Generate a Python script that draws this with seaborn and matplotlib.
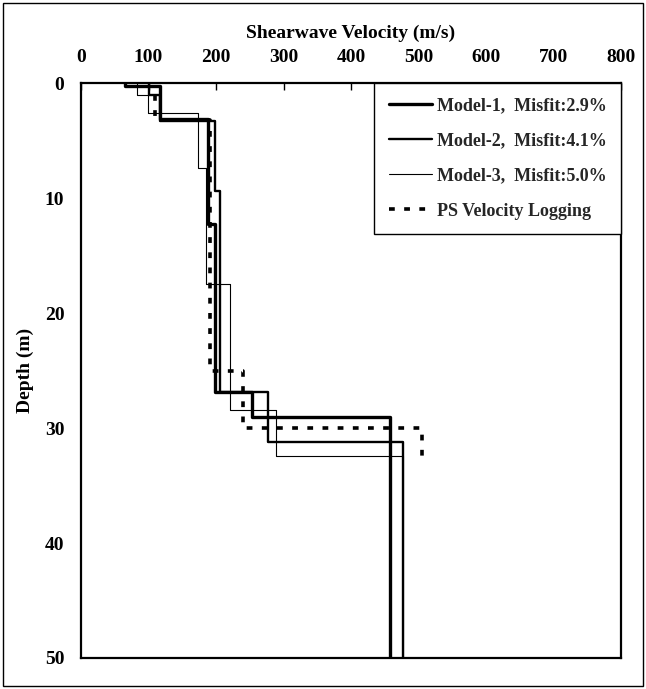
import numpy as np
import pandas as pd
import matplotlib
matplotlib.use("Agg")
import matplotlib.pyplot as plt
from matplotlib.patches import Rectangle
import seaborn as sns

# layered shear-wave profiles: velocity (m/s) of each layer, with layer top / bottom depth (m)
m1_vel = [65, 117, 188, 199, 253, 458]
m1_top = [0.0, 0.3, 3.1, 12.3, 26.9, 29.0]
m1_bot = [0.3, 3.1, 12.3, 26.9, 29.0, 50.0]

m2_vel = [101, 117, 198, 206, 277, 477]
m2_top = [0.0, 1.0, 3.3, 9.4, 26.9, 31.2]
m2_bot = [1.0, 3.3, 9.4, 26.9, 31.2, 50.0]

m3_vel = [83, 99, 173, 185, 221, 289, 477]
m3_top = [0.0, 1.0, 2.6, 7.4, 17.5, 28.4, 32.4]
m3_bot = [1.0, 2.6, 7.4, 17.5, 28.4, 32.4, 50.0]

ps_vel = [110, 191, 240, 505]
ps_top = [1.0, 3.2, 25.0, 30.0]
ps_bot = [3.2, 25.0, 30.0, 32.6]

labels = ["Model-1,  Misfit:2.9%", "Model-2,  Misfit:4.1%",
          "Model-3,  Misfit:5.0%", "PS Velocity Logging"]


def steps(vel, top, bot, name):
    xs, ys = [], []
    for v, t, b in zip(vel, top, bot):
        xs += [v, v]
        ys += [t, b]
    return pd.DataFrame({"vel": xs, "depth": ys, "model": name})


df = pd.concat([
    steps(m1_vel, m1_top, m1_bot, labels[0]),
    steps(m2_vel, m2_top, m2_bot, labels[1]),
    steps(m3_vel, m3_top, m3_bot, labels[2]),
    steps(ps_vel, ps_top, ps_bot, labels[3]),
], ignore_index=True)

sns.set_theme(style="white")
plt.rcParams["font.family"] = ["Liberation Serif", "DejaVu Serif"]
plt.rcParams["font.weight"] = "bold"

fig = plt.figure(figsize=(6.46, 6.89), dpi=100)
ax = fig.add_axes([0.1254, 0.045, 0.8359, 0.8345])

widths = {labels[0]: 2.4, labels[1]: 1.7, labels[2]: 0.8, labels[3]: 2.6}
dashes = {labels[0]: "", labels[1]: "", labels[2]: "", labels[3]: (1.6, 2.6)}

sns.lineplot(data=df, x="vel", y="depth", hue="model", style="model",
             palette=["black"] * 4, dashes=dashes, sort=False,
             estimator=None, orient="y", ax=ax, legend=False)
for line, name in zip(ax.get_lines(), labels):
    line.set_linewidth(widths[name])

ax.set_xlim(0, 800)
ax.set_ylim(50, 0)
ax.set_xticks(np.arange(0, 801, 100))
ax.set_yticks(np.arange(0, 51, 10))
ax.xaxis.tick_top()
ax.xaxis.set_label_position("top")
ax.tick_params(axis="both", direction="in", length=5, width=1, color="black",
               labelsize=14, labelcolor="black")
ax.tick_params(axis="x", pad=12)
ax.tick_params(axis="y", pad=12)
for lab in ax.get_xticklabels() + ax.get_yticklabels():
    lab.set_fontweight("bold")
ax.set_xlabel("Shearwave Velocity (m/s)", fontsize=14, fontweight="bold",
              labelpad=8, color="black")
ax.set_ylabel("Depth (m)", fontsize=14, fontweight="bold", labelpad=8,
              color="black")
for sp in ax.spines.values():
    sp.set_color("black")
    sp.set_linewidth(1.6)

handles = [plt.Line2D([], [], color="black", lw=widths[n],
                      linestyle=(0, dashes[n]) if dashes[n] else "-") for n in labels]
leg = ax.legend(handles, labels, loc="upper right", borderaxespad=0,
                fancybox=False, framealpha=1, edgecolor="black",
                prop={"size": 13, "weight": "bold"}, handlelength=2.4,
                labelspacing=1.0, borderpad=0.8, handletextpad=0.25)
leg.get_frame().set_linewidth(1.0)

fig.patches.append(Rectangle((0.005, 0.004), 0.99, 0.991, transform=fig.transFigure,
                             fill=False, edgecolor="black", linewidth=1.0))

fig.savefig("out.png", dpi=100)
